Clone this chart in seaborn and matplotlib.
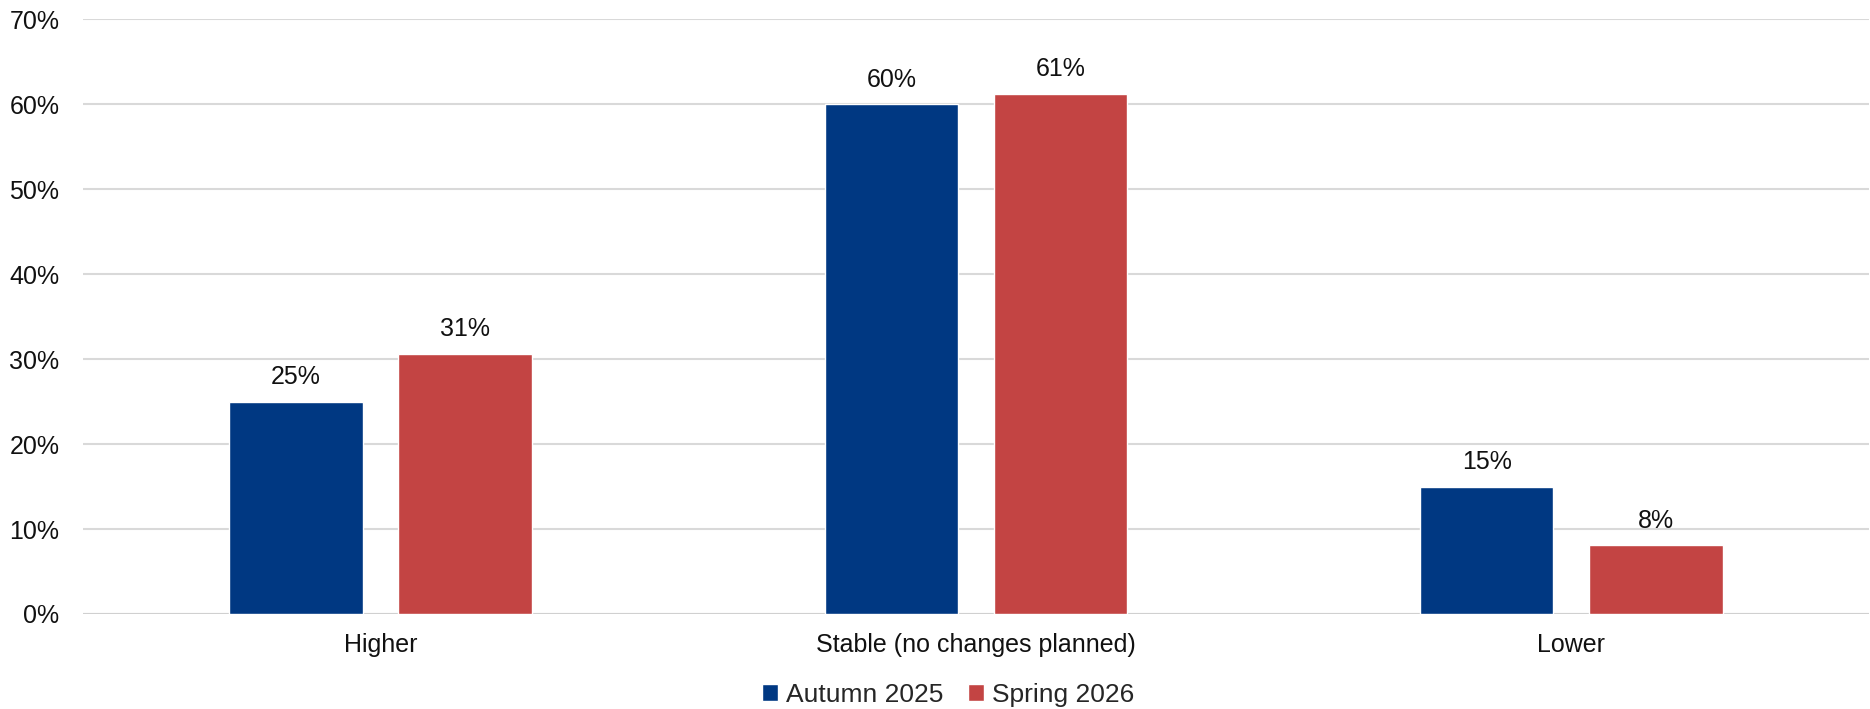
import pandas as pd
import seaborn as sns
import matplotlib.pyplot as plt
from matplotlib.patches import Patch
from matplotlib.ticker import PercentFormatter

categories = ["Higher", "Stable (no changes planned)", "Lower"]
series = ["Autumn 2025", "Spring 2026"]
autumn_2025 = [25.0, 60.0, 15.0]
spring_2026 = [30.6, 61.2, 8.1]
colors = ["#003882", "#C34443"]

df = pd.DataFrame({
    "category": categories * 2,
    "period": [series[0]] * 3 + [series[1]] * 3,
    "value": autumn_2025 + spring_2026,
})

sns.set_style("white")
plt.rcParams['font.family'] = ['Liberation Sans', 'DejaVu Sans']

fig = plt.figure(figsize=(18.7, 7.09), dpi=100)
ax = fig.add_axes([0.0444, 0.134, 0.955, 0.839])

sns.barplot(data=df, x="category", y="value", hue="period", order=categories,
            hue_order=series, palette=colors, width=0.568, gap=0.21,
            saturation=1, ax=ax, legend=False, zorder=3)

for cont in ax.containers:
    ax.bar_label(cont, fmt="%.0f%%", padding=9, fontsize=18, color="#111111")

ax.set_ylim(0, 70)
ax.set_xlim(-0.5, 2.5)
ax.set_yticks(range(0, 71, 10))
ax.yaxis.set_major_formatter(PercentFormatter(decimals=0))
ax.grid(axis="y", color="#d9d9d9", linewidth=1.5, zorder=0)
ax.set_axisbelow(True)
sns.despine(ax=ax, left=True, top=True, right=True, bottom=True)
ax.axhline(0, color="#d0d0d0", linewidth=1.5, zorder=1)
ax.tick_params(axis="y", length=0, pad=17, labelsize=18, labelcolor="#111111")
ax.tick_params(axis="x", length=0, pad=14, labelsize=18, labelcolor="#111111")
ax.set_xlabel("")
ax.set_ylabel("")

handles = [Patch(facecolor=c, label=s) for c, s in zip(colors, series)]
fig.legend(handles=handles, loc="lower center", bbox_to_anchor=(0.507, -0.03),
           ncol=2, frameon=False, fontsize=19, handlelength=0.6,
           handleheight=0.6, handletextpad=0.3, columnspacing=0.95)

plt.savefig("out.png", dpi=100)
